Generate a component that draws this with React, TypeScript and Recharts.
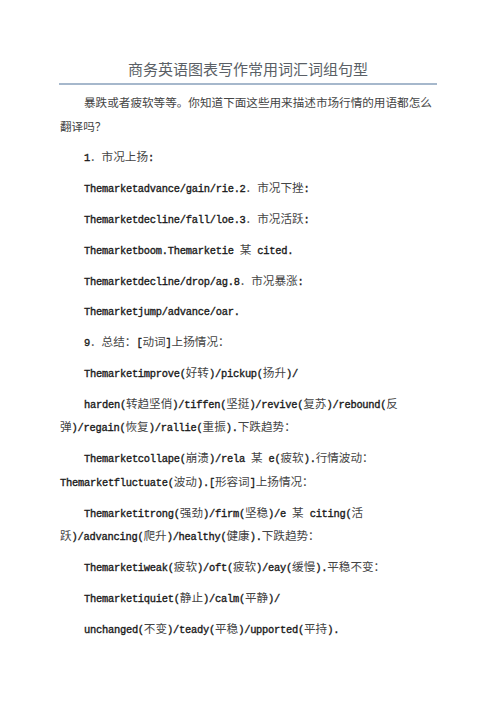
import React from 'react';
import { Surface, Layer } from 'recharts';

const title = '商务英语图表写作常用词汇词组句型';

// each line of the page; wrapped lines are flagged so they sit closer and start at the margin
const lines = [
  '暴跌或者疲软等等。你知道下面这些用来描述市场行情的用语都怎么',
  '翻译吗？',
  '1．市况上扬:',
  'Themarketadvance/gain/rie.2．市况下挫:',
  'Themarketdecline/fall/loe.3．市况活跃:',
  'Themarketboom.Themarketie 某 cited.',
  'Themarketdecline/drop/ag.8．市况暴涨:',
  'Themarketjump/advance/oar.',
  '9．总结：[动词]上扬情况：',
  'Themarketimprove(好转)/pickup(扬升)/',
  'harden(转趋坚俏)/tiffen(坚挺)/revive(复苏)/rebound(反',
  '弹)/regain(恢复)/rallie(重振).下跌趋势：',
  'Themarketcollape(崩溃)/rela 某 e(疲软).行情波动：',
  'Themarketfluctuate(波动).[形容词]上扬情况：',
  'Themarketitrong(强劲)/firm(坚稳)/e 某 citing(活',
  '跃)/advancing(爬升)/healthy(健康).下跌趋势：',
  'Themarketiweak(疲软)/oft(疲软)/eay(缓慢).平稳不变：',
  'Themarketiquiet(静止)/calm(平静)/',
  'unchanged(不变)/teady(平稳)/upported(平持).',
];
const continued = [false, true, false, false, false, false, false, false, false, false, false, true, false, true, false, true, false, false, false];

const WIDTH = 480;
const HEIGHT = 686;
const CJK = /[\u3000-\u303f\u4e00-\u9fff\uff00-\uffef]/;

const splitRuns = (s: string) => {
  const runs: { text: string; cjk: boolean }[] = [];
  for (const ch of s) {
    const cjk = CJK.test(ch);
    const last = runs[runs.length - 1];
    if (last && last.cjk === cjk) last.text += ch;
    else runs.push({ text: ch, cjk });
  }
  return runs;
};

const App: React.FC = () => {
  let y = 103 - 8;
  const rows = lines.map((line, i) => {
    y += i === 0 ? 0 : continued[i] ? 23.6 : 30.8;
    return { line, x: continued[i] ? 60 - 8 : 84 - 8, y: y + 4 };
  });

  return (
    <div style={{ width: WIDTH, height: HEIGHT, background: '#fff' }}>
      <Surface width={WIDTH} height={HEIGHT}>
        <Layer>
          <text x={248 - 8} y={75 - 8} textAnchor="middle" fontFamily="Noto Sans CJK SC" fontSize={15} fill="#5a5f66">
            {title}
          </text>
          <line x1={59 - 8} x2={437 - 8} y1={84 - 8} y2={84 - 8} stroke="#4f7399" strokeWidth={1.2} />
        </Layer>
        <Layer>
          {rows.map((r, i) => (
            <text key={i} x={r.x} y={r.y} fill="#1a1a1a">
              {splitRuns(r.line).map((run, j) =>
                run.cjk ? (
                  <tspan key={j} fontFamily="Noto Sans CJK SC" fontSize={11.6} fill="#444">
                    {run.text}
                  </tspan>
                ) : (
                  <tspan
                    key={j}
                    fontFamily="Liberation Mono"
                    fontSize={10.4}
                    letterSpacing={-0.25}
                    stroke="#1a1a1a"
                    strokeWidth={0.35}
                  >
                    {run.text}
                  </tspan>
                )
              )}
            </text>
          ))}
        </Layer>
      </Surface>
    </div>
  );
};

export default App;
